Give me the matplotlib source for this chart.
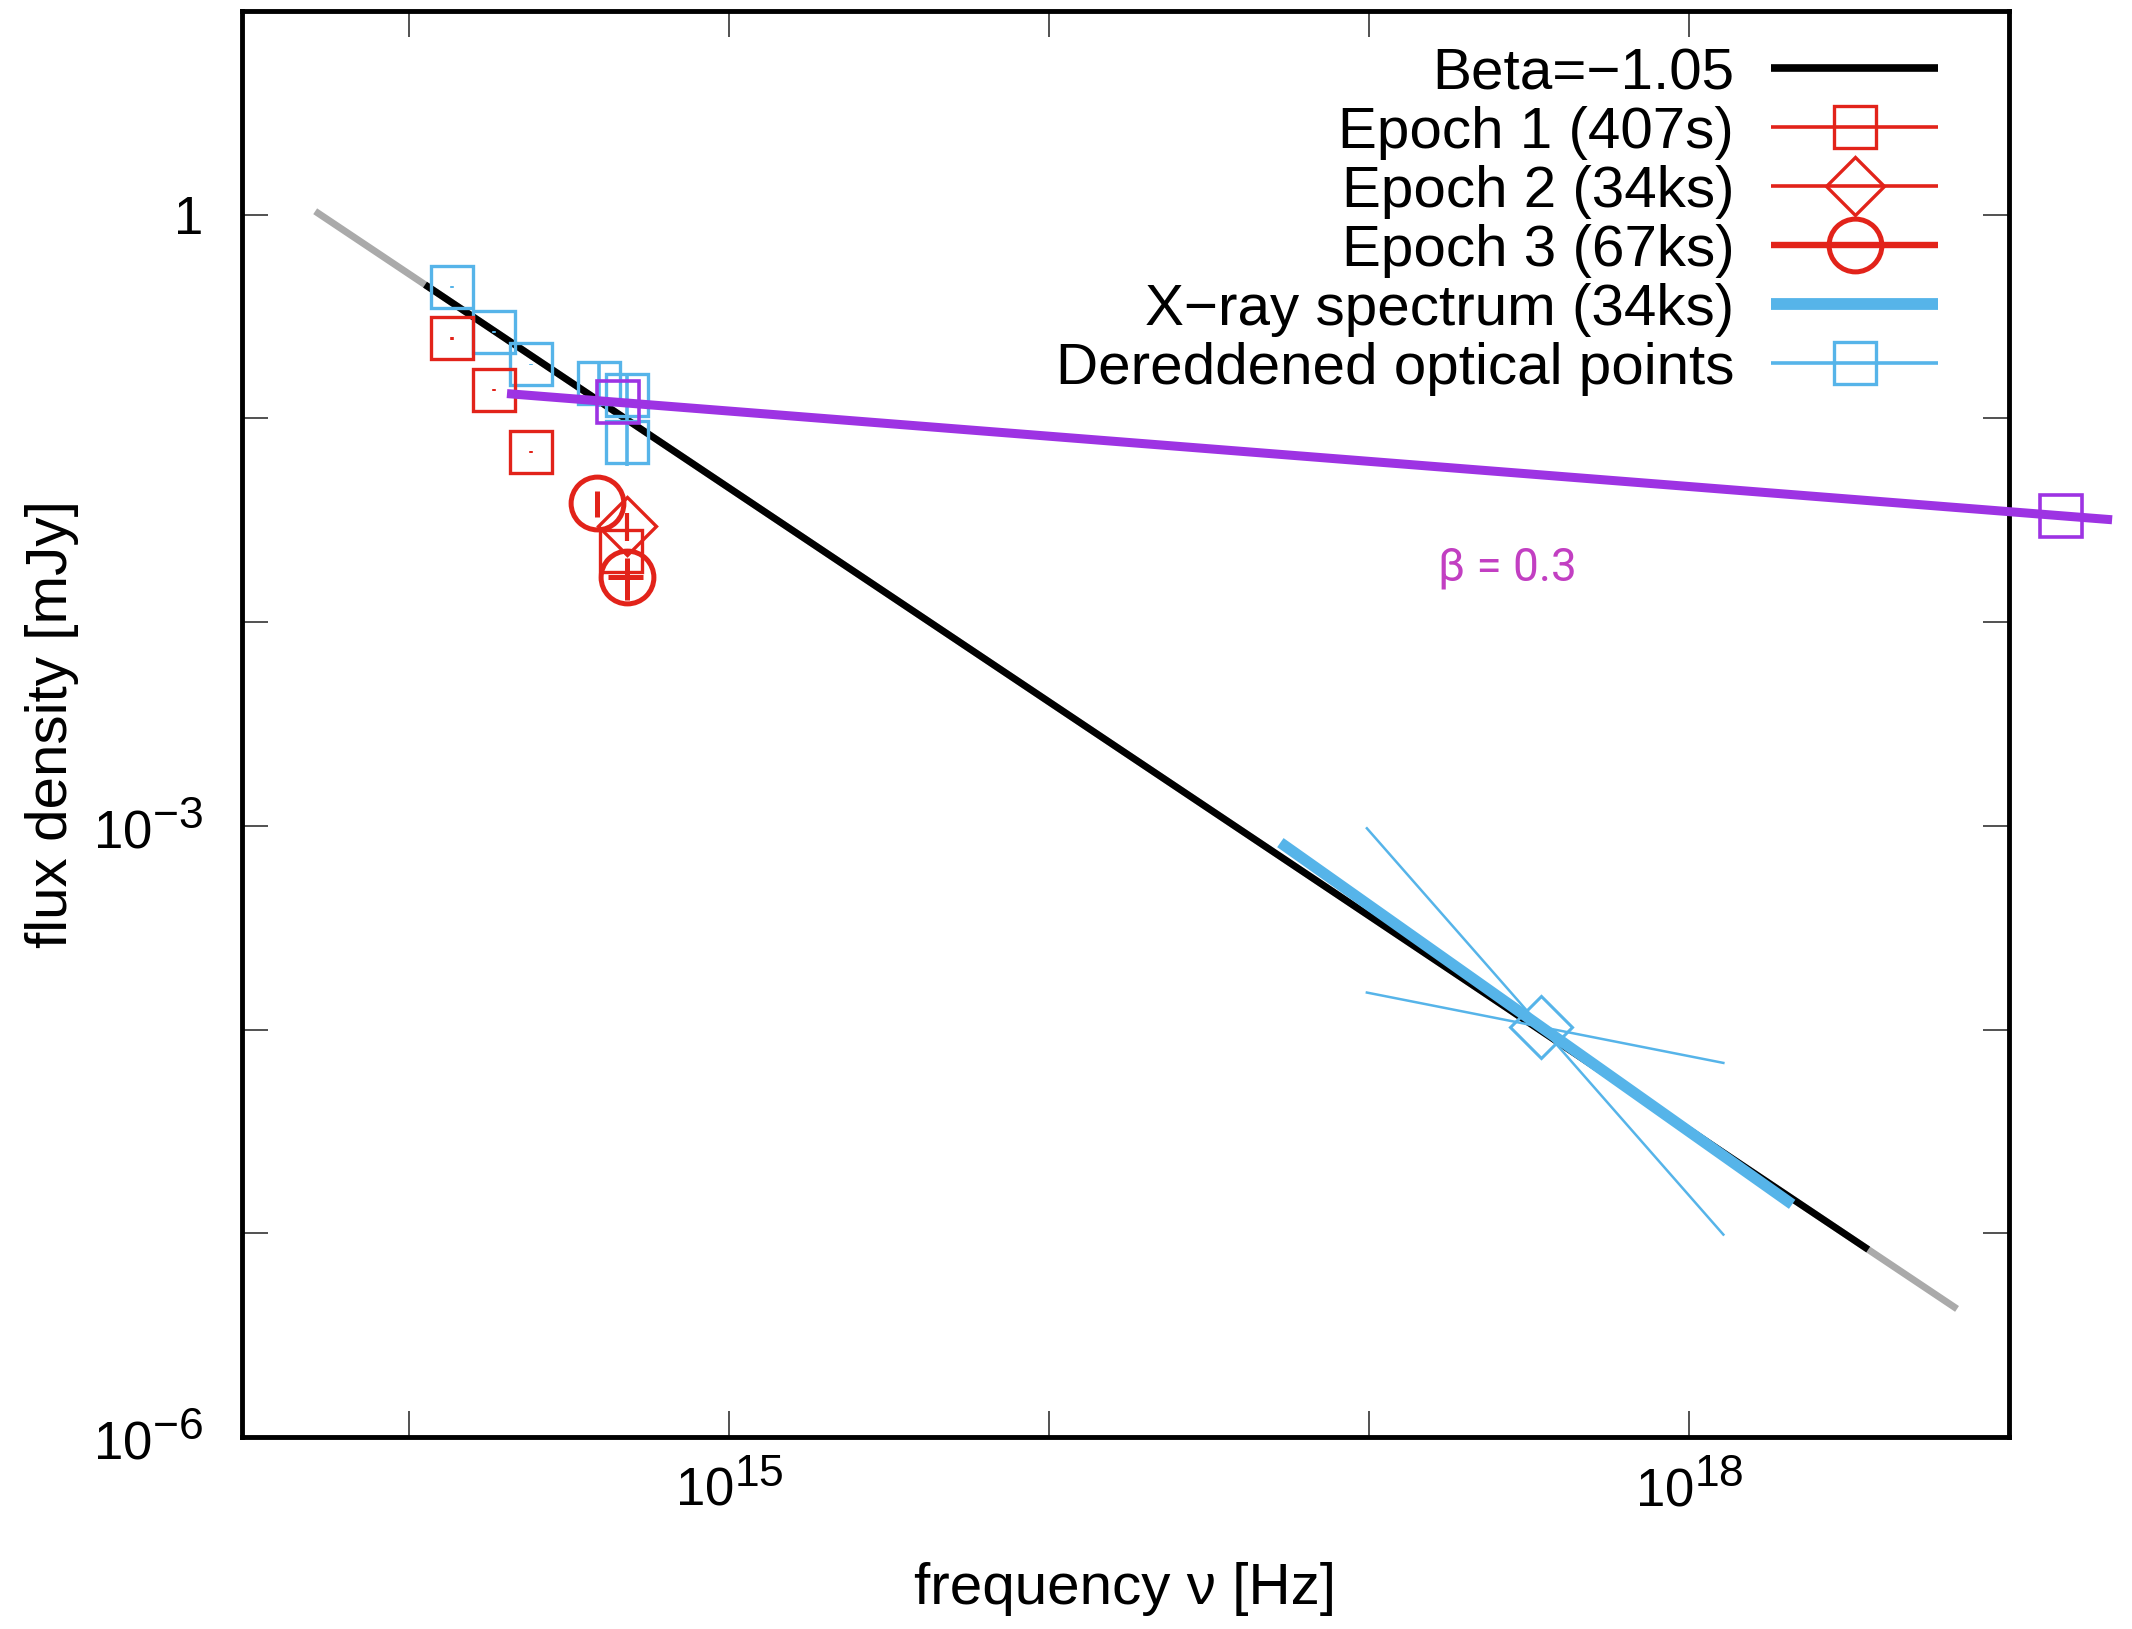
import numpy as np
import matplotlib
matplotlib.use("Agg")
import matplotlib.pyplot as plt
import matplotlib._mathtext as _mathtext
from matplotlib.ticker import FixedLocator, FuncFormatter
from matplotlib.lines import Line2D

plt.rcParams['font.family'] = ['Liberation Sans', 'DejaVu Sans']
plt.rcParams['mathtext.fontset'] = 'custom'
plt.rcParams['mathtext.rm'] = 'Liberation Sans'
plt.rcParams['mathtext.it'] = 'Liberation Sans:italic'
plt.rcParams['mathtext.bf'] = 'Liberation Sans:bold'
# larger exponents on the decade labels
_mathtext.SHRINK_FACTOR = 0.84

# ---- power-law model (Beta = -1.05) ----
beta_model = -1.05
model_nu_ref = 5.08e13        # Hz
model_flux_ref = 1.04         # mJy at model_nu_ref
model_nu_full = [5.08e13, 6.88e18]   # extrapolated range (grey)
model_nu_fit = [1.12e14, 3.63e18]    # fitted range (black)

# ---- optical photometry ----
epoch1_nu = [1.36e14, 1.84e14, 2.40e14, 4.58e14]
epoch1_flux = [0.247, 0.138, 0.0686, 0.0224]
epoch1_err = [0.003, 0.0016, 0.0008, 0.0003]

epoch2_nu = [4.79e14]
epoch2_flux = [0.0297]
epoch2_err = [0.0047]

epoch3_nu = [3.86e14, 4.79e14]
epoch3_flux = [0.0383, 0.0167]
epoch3_err = [0.0055, 0.0039]
epoch3_nu_err = [0.0, 6.0e13]

dered_nu = [1.36e14, 1.84e14, 2.40e14, 3.92e14, 4.80e14, 4.80e14]
dered_flux = [0.443, 0.266, 0.184, 0.149, 0.131, 0.0766]
dered_err = [0.005, 0.003, 0.002, 0.035, 0.033, 0.018]

# ---- X-ray spectrum (34 ks) ----
xray_nu = [5.28e16, 2.10e18]
xray_pivot_nu = 3.45e17
xray_pivot_flux = 1.03e-4
xray_index = -1.11
bowtie_nu = [9.84e16, 1.28e18]
bowtie_index = [-1.79, -0.31]

# ---- flatter component ----
flat_nu = [4.48e14, 1.45e19]
flat_flux = [0.120, 0.0333]
flat_line_nu = [2.02e14, 2.10e19]
flat_label = "β = 0.3"

legend_labels = ["Beta=\u22121.05", "Epoch 1 (407s)", "Epoch 2 (34ks)",
                 "Epoch 3 (67ks)", "X\u2212ray spectrum (34ks)",
                 "Dereddened optical points"]

RED = '#e2231a'
BLUE = '#56b4e9'
PURPLE = '#9d33e3'
GREY = '#aaaaaa'
MAGENTA = '#c23fc2'

W, H = 2132, 1629
fig = plt.figure(figsize=(W / 100, H / 100), dpi=100)
ax = fig.add_axes([242 / W, 1 - 1437 / H, 1767 / W, 1426 / H])
ax.set_xscale('log')
ax.set_yscale('log')
ax.set_xlim(3.0e13, 1.0e19)
ax.set_ylim(1e-6, 10)


def powerlaw(nu, nu0, f0, idx):
    nu = np.asarray(nu, dtype=float)
    return f0 * (nu / nu0) ** idx


# model line: grey extrapolation under black fitted part
ax.plot(model_nu_full, powerlaw(model_nu_full, model_nu_ref, model_flux_ref, beta_model),
        color=GREY, lw=5.0, solid_capstyle='butt', zorder=2)
ax.plot(model_nu_fit, powerlaw(model_nu_fit, model_nu_ref, model_flux_ref, beta_model),
        color='black', lw=5.0, solid_capstyle='butt', zorder=2.1)

# optical points
ebkw = dict(capsize=0, linestyle='none', zorder=3)
ax.errorbar(dered_nu, dered_flux, yerr=dered_err, fmt='s', ms=30, mfc='none',
            mec=BLUE, mew=2.4, ecolor=BLUE, elinewidth=2.6, **ebkw)
ax.errorbar(epoch1_nu, epoch1_flux, yerr=epoch1_err, fmt='s', ms=30, mfc='none',
            mec=RED, mew=2.4, ecolor=RED, elinewidth=2.6, **ebkw)
ax.errorbar(epoch2_nu, epoch2_flux, yerr=epoch2_err, fmt='D', ms=30, mfc='none',
            mec=RED, mew=2.4, ecolor=RED, elinewidth=3, **ebkw)
ax.errorbar(epoch3_nu, epoch3_flux, yerr=epoch3_err, xerr=epoch3_nu_err, fmt='o',
            ms=38, mfc='none', mec=RED, mew=3.6, ecolor=RED, elinewidth=3.6, **ebkw)

# X-ray spectrum and its uncertainty bow-tie
ax.plot(xray_nu, powerlaw(xray_nu, xray_pivot_nu, xray_pivot_flux, xray_index),
        color=BLUE, lw=8, solid_capstyle='butt', zorder=4)
for idx in bowtie_index:
    ax.plot(bowtie_nu, powerlaw(bowtie_nu, xray_pivot_nu, xray_pivot_flux, idx),
            color=BLUE, lw=1.8, zorder=5)
ax.plot([xray_pivot_nu], [xray_pivot_flux], 'D', ms=32, mfc='none', mec=BLUE,
        mew=2.2, zorder=6)

# flatter component, running past the frame on the right
flat_slope = np.log10(flat_flux[1] / flat_flux[0]) / np.log10(flat_nu[1] / flat_nu[0])
ax.plot(flat_line_nu, powerlaw(flat_line_nu, flat_nu[0], flat_flux[0], flat_slope),
        color=PURPLE, lw=6.5, solid_capstyle='butt', zorder=6, clip_on=False)
ax.plot(flat_nu, flat_flux, 's', ms=30, mfc='none', mec=PURPLE, mew=2.6,
        zorder=7, clip_on=False)
ax.text(1.64e17, 0.0186, flat_label, color=MAGENTA, fontsize=33,
        family=['Roboto', 'DejaVu Sans'], ha='left', va='center', zorder=8)

# axes styling
for sp in ax.spines.values():
    sp.set_linewidth(3.5)
ax.xaxis.set_major_locator(FixedLocator([10.0 ** k for k in range(13, 20)]))
ax.yaxis.set_major_locator(FixedLocator([10.0 ** k for k in range(-6, 2)]))
ax.xaxis.set_minor_locator(FixedLocator([]))
ax.yaxis.set_minor_locator(FixedLocator([]))

x_labeled = {15: r'$10^{15}$', 18: r'$10^{18}$'}
y_labeled = {0: '1', -3: r'$10^{-3}$', -6: r'$10^{-6}$'}
ax.xaxis.set_major_formatter(FuncFormatter(
    lambda v, p: x_labeled.get(int(round(np.log10(v))), '')))
ax.yaxis.set_major_formatter(FuncFormatter(
    lambda v, p: y_labeled.get(int(round(np.log10(v))), '')))
ax.tick_params(which='major', direction='in', length=19, width=1.2,
               top=True, right=True, labelsize=38, color='#333333')
ax.tick_params(axis='x', pad=18)
ax.tick_params(axis='y', pad=28)

ax.set_xlabel('frequency ν [Hz]', fontsize=42)
ax.set_ylabel('flux density [mJy]', fontsize=42)
ax.xaxis.set_label_coords(0.5, -0.088)
ax.yaxis.set_label_coords(-0.092, 0.5)

# key in the upper right: labels right-aligned, samples to their right
rows_y = [0.9598, 0.9189, 0.8773, 0.8359, 0.7945, 0.7529]
text_x = 0.8445
line_x = [0.8653, 0.9598]
mark_x = 0.9126
baseline_shift = 21 / 1426
samples = [
    dict(color='black', lw=5.5, marker=None),
    dict(color=RED, lw=2.6, marker='s', ms=30, mew=2.4),
    dict(color=RED, lw=2.6, marker='D', ms=30, mew=2.4),
    dict(color=RED, lw=4.6, marker='o', ms=38, mew=3.6),
    dict(color=BLUE, lw=8.5, marker=None),
    dict(color=BLUE, lw=2.6, marker='s', ms=30, mew=2.4),
]
for y, lab, s in zip(rows_y, legend_labels, samples):
    ax.text(text_x, y - baseline_shift, lab, transform=ax.transAxes,
            ha='right', va='baseline', fontsize=42, zorder=9)
    ax.add_line(Line2D(line_x, [y, y], transform=ax.transAxes, color=s['color'],
                       lw=s['lw'], solid_capstyle='butt', zorder=9))
    if s['marker']:
        ax.add_line(Line2D([mark_x], [y], transform=ax.transAxes, marker=s['marker'],
                           ms=s['ms'], mew=s['mew'], mfc='none', mec=s['color'],
                           linestyle='none', zorder=9))

fig.savefig('out.png', dpi=100)
